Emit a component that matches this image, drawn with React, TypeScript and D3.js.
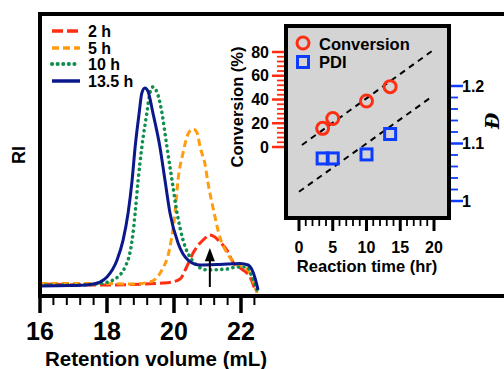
import React from 'react';
import * as d3 from 'd3';

// GPC traces: [retention volume (mL), RI (normalised)]
const trace2h: [number, number][] = [
  [16.0, 0.005], [17.79, 0.0], [19.67, 0.01], [19.94, 0.015], [20.18, 0.03], [20.39, 0.096],
  [20.57, 0.162], [20.78, 0.212], [20.93, 0.237], [21.07, 0.253], [21.22, 0.242], [21.37, 0.217],
  [21.58, 0.177], [21.76, 0.116], [21.97, 0.086], [22.27, 0.04], [22.42, -0.025]
];
const trace5h: [number, number][] = [
  [16.0, 0.008], [17.79, 0.008], [18.78, 0.005], [19.28, 0.015], [19.64, 0.076], [19.88, 0.192],
  [20.03, 0.364], [20.12, 0.53], [20.27, 0.667], [20.42, 0.763], [20.57, 0.788], [20.69, 0.768],
  [20.78, 0.697], [20.93, 0.606], [21.01, 0.52], [21.16, 0.394], [21.37, 0.242], [21.58, 0.162],
  [21.82, 0.111], [22.06, 0.091], [22.27, 0.061], [22.42, -0.01], [22.48, -0.04]
];
const trace10h: [number, number][] = [
  [16.0, 0.0], [17.19, 0.0], [17.88, 0.01], [18.18, 0.025], [18.54, 0.091], [18.75, 0.227],
  [18.84, 0.364], [18.93, 0.53], [19.04, 0.697], [19.19, 0.869], [19.28, 0.97], [19.37, 1.0],
  [19.49, 0.975], [19.64, 0.869], [19.79, 0.697], [19.94, 0.53], [20.09, 0.364], [20.27, 0.227],
  [20.54, 0.126], [20.99, 0.076], [21.58, 0.081], [21.88, 0.091], [22.18, 0.091], [22.33, 0.04],
  [22.48, -0.025]
];
const trace13h: [number, number][] = [
  [16.0, -0.005], [16.9, -0.003], [17.49, 0.003], [17.79, 0.015], [18.0, 0.04], [18.3, 0.126],
  [18.48, 0.227], [18.63, 0.364], [18.75, 0.53], [18.84, 0.697], [18.96, 0.869], [19.04, 0.97],
  [19.13, 0.995], [19.22, 0.98], [19.37, 0.869], [19.58, 0.697], [19.73, 0.53], [19.88, 0.364],
  [20.12, 0.212], [20.42, 0.126], [20.78, 0.101], [21.37, 0.104], [21.97, 0.109], [22.21, 0.101],
  [22.33, 0.076], [22.42, 0.035], [22.51, -0.025]
];
const traceLabels = ['2 h', '5 h', '10 h', '13.5 h'];
const xTickLabels = [16, 18, 20, 22];
const arrowAt = 21.07;

// inset: kinetics
const reactionTime = [3.5, 5, 10, 13.5];
const conversion = [15.7, 24, 38.7, 50.8];
const pdi = [1.074, 1.074, 1.081, 1.1165];
const convFit: [number, number][] = [[0.44, 1.7], [19.7, 80.8]];
const pdiFit: [number, number][] = [[0, 1.016], [19.4, 1.179]];
const timeTicks = [0, 5, 10, 15, 20];
const convTicks = [0, 20, 40, 60, 80];
const pdiTicks = ['1', '1.1', '1.2'];

const FONT = "'Liberation Sans', Arial, Helvetica, sans-serif";
const RED = '#ff2e12';
const ORANGE = '#ff9c10';
const GREEN = '#0e8f4e';
const NAVY = '#0b188c';
const BLUE = '#0d3cff';

const styles = [
  { color: RED, dash: '11,4', cap: 'butt', w: 3 },
  { color: ORANGE, dash: '7,4', cap: 'butt', w: 3 },
  { color: GREEN, dash: '0.1,5.5', cap: 'round', w: 3.6 },
  { color: NAVY, dash: null, cap: 'butt', w: 3 }
];

export default function App() {
  const x = d3.scaleLinear().domain([16, 22]).range([40, 241]);
  const y = d3.scaleLinear().domain([0, 1]).range([285, 87]);
  const line = d3.line<[number, number]>().x(d => x(d[0])).y(d => y(d[1])).curve(d3.curveMonotoneX);
  const traces = [trace2h, trace5h, trace10h, trace13h];

  const t = d3.scaleLinear().domain([0, 20]).range([299, 434]);
  const cv = d3.scaleLinear().domain([0, 80]).range([147, 52]);
  const pd = d3.scaleLinear().domain([1, 1.2]).range([201, 86]);

  const minorX = d3.range(16, 22.41, 0.4);
  const tMinor = d3.range(0, 21, 1);
  const cMinor = d3.range(0, 81, 4);
  const pMinor = d3.range(0, 11).map(i => 1 + i * 0.02);

  return (
    <svg width={504} height={369} style={{ position: 'absolute', left: 0, top: 0, background: '#fff' }}
      fontFamily={FONT} fontWeight="bold">
      {/* main traces */}
      {traces.map((tr, i) => (
        <path key={i} d={line(tr) || ''} fill="none" stroke={styles[i].color} strokeWidth={styles[i].w}
          strokeDasharray={styles[i].dash || undefined} strokeLinecap={styles[i].cap as any} />
      ))}
      {/* arrow */}
      <line x1={x(arrowAt)} x2={x(arrowAt)} y1={y(-0.01)} y2={y(0.13)} stroke="#000" strokeWidth={2} />
      <path d={`M${x(arrowAt)},${y(0.187)} L${x(arrowAt) - 5},${y(0.12)} L${x(arrowAt) + 5},${y(0.12)} Z`} fill="#000" />

      {/* main frame */}
      <rect x={40} y={14} width={520} height={282} fill="none" stroke="#000" strokeWidth={4} />
      {minorX.map((v, i) => {
        const major = Math.abs(v - Math.round(v)) < 0.01 && Math.round(v) % 2 === 0;
        return <line key={i} x1={x(v)} x2={x(v)} y1={297} y2={major ? 313 : 305} stroke="#000" strokeWidth={major ? 3.5 : 2} />;
      })}
      {xTickLabels.map(v => (
        <text key={v} x={x(v)} y={340} textAnchor="middle" fontSize={25}>{v}</text>
      ))}
      <text x={156} y={366} textAnchor="middle" fontSize={20.5}>Retention volume (mL)</text>
      <text transform="translate(25,155) rotate(-90)" textAnchor="middle" fontSize={18}>RI</text>

      {/* legend */}
      {traceLabels.map((lab, i) => {
        const ly = [31, 48, 64, 81][i];
        return (
          <g key={lab}>
            <line x1={52} x2={80} y1={ly} y2={ly} stroke={styles[i].color} strokeWidth={styles[i].w + 0.5}
              strokeDasharray={styles[i].dash || undefined} strokeLinecap={styles[i].cap as any} />
            <text x={88} y={ly + 5.5} fontSize={16}>{lab}</text>
          </g>
        );
      })}

      {/* inset */}
      <rect x={286} y={26} width={163} height={192} fill="#d4d4d4" stroke="#000" strokeWidth={4} />
      <path d={`M${t(convFit[0][0])},${cv(convFit[0][1])} L${t(convFit[1][0])},${cv(convFit[1][1])}`} stroke="#000" strokeWidth={2} strokeDasharray="6,5" />
      <path d={`M${t(pdiFit[0][0])},${pd(pdiFit[0][1])} L${t(pdiFit[1][0])},${pd(pdiFit[1][1])}`} stroke="#000" strokeWidth={2} strokeDasharray="6,5" />
      {reactionTime.map((tm, i) => (
        <circle key={'c' + i} cx={t(tm)} cy={cv(conversion[i])} r={6} fill="none" stroke={RED} strokeWidth={3} />
      ))}
      {reactionTime.map((tm, i) => (
        <rect key={'s' + i} x={t(tm) - 5.5} y={pd(pdi[i]) - 5.5} width={11} height={11} fill="none" stroke={BLUE} strokeWidth={3} />
      ))}
      <circle cx={303} cy={43} r={6} fill="none" stroke={RED} strokeWidth={3} />
      <text x={319} y={49.5} fontSize={16.5}>Conversion</text>
      <rect x={297.5} y={56.5} width={11} height={11} fill="none" stroke={BLUE} strokeWidth={3} />
      <text x={319} y={67.5} fontSize={16.5}>PDI</text>

      {/* inset bottom axis */}
      {tMinor.map(v => (
        <line key={v} x1={t(v)} x2={t(v)} y1={220} y2={v % 5 === 0 ? 231 : 226} stroke="#000" strokeWidth={v % 5 === 0 ? 3 : 1.8} />
      ))}
      {timeTicks.map(v => (
        <text key={v} x={t(v)} y={253} textAnchor="middle" fontSize={16}>{v}</text>
      ))}
      <text x={367} y={272} textAnchor="middle" fontSize={16.5}>Reaction time (hr)</text>

      {/* inset left axis */}
      {cMinor.map(v => (
        <line key={v} x1={v % 20 === 0 ? 272 : 277} x2={284} y1={cv(v)} y2={cv(v)} stroke={RED} strokeWidth={v % 20 === 0 ? 2.5 : 1.8} />
      ))}
      {convTicks.map(v => (
        <text key={v} x={269} y={cv(v) + 5.5} textAnchor="end" fontSize={16}>{v}</text>
      ))}
      <text transform="translate(243,107) rotate(-90)" textAnchor="middle" fontSize={16.5}>Conversion (%)</text>

      {/* inset right axis */}
      {pMinor.map((v, i) => (
        <line key={i} x1={451} x2={i % 5 === 0 ? 463 : 458} y1={pd(v)} y2={pd(v)} stroke={BLUE} strokeWidth={i % 5 === 0 ? 2.5 : 1.8} />
      ))}
      {pdiTicks.map(v => (
        <text key={v} x={462} y={pd(+v) + 5.5} fontSize={16}>{v}</text>
      ))}
      <text transform="translate(499,121) rotate(-90)" textAnchor="middle" fontSize={19}
        fontFamily="'DejaVu Serif', 'Liberation Serif', serif" fontStyle="italic">Đ</text>
    </svg>
  );
}
